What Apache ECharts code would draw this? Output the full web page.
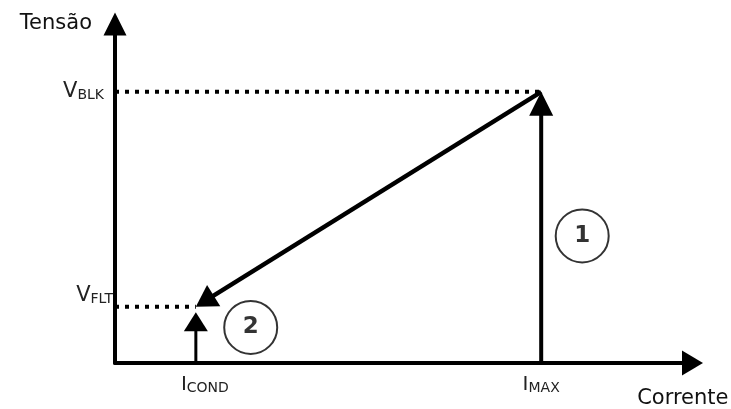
<!DOCTYPE html>
<html>
<head>
<meta charset="utf-8">
<script src="https://cdn.jsdelivr.net/npm/echarts@6/dist/echarts.min.js"></script>
<style>
  html, body { margin: 0; padding: 0; background: #fff; }
  #chart { width: 731px; height: 409px; }
</style>
</head>
<body>
<div id="chart"></div>
<script>
// values (axes run 0..100)
const I_COND = 14.0;
const I_MAX = 73.8;
const V_FLT = 16.6;
const V_BLK = 80.0;

const xTicks = [I_COND, I_MAX];
const xTickNames = ["COND", "MAX"];
const yTicks = [V_FLT, V_BLK];
const yTickNames = ["FLT", "BLK"];

// dotted guide lines
const dottedBlk = [[0, V_BLK], [I_MAX, V_BLK]];
const dottedFlt = [[0, V_FLT], [I_COND, V_FLT]];

// arrows: [x0, y0, x1, y1], head at (x1, y1)
const arrowLines = [
  [I_MAX, 0, I_MAX, V_BLK],
  [I_MAX, V_BLK, I_COND, V_FLT],
  [I_COND, 0, I_COND, 15.0]
];

// numbered circles: [x, y, text]
const badges = [
  [80.9, 37.5, "1"],
  [23.5, 10.5, "2"]
];

// line width / head length / head width for each arrow
const arrowLook = [
  { lw: 4, len: 24, w: 24 },
  { lw: 4.5, len: 21, w: 25 },
  { lw: 3, len: 19, w: 24 }
];

const font = "DejaVu Sans";

let myChart = echarts.init(document.getElementById("chart"));
myChart.setOption({
  backgroundColor: "#fff",
  animation: false,
  grid: { left: 115, right: 38.5, top: 24, bottom: 46, outerBoundsMode: "none" },
  xAxis: {
    type: "value",
    min: 0,
    max: 100,
    name: "\nCorrente",
    nameLocation: "end",
    nameGap: 36,
    nameTextStyle: {
      fontFamily: font,
      fontSize: 21,
      lineHeight: 24,
      color: "#111",
      align: "right",
      verticalAlign: "top"
    },
    axisLine: {
      lineStyle: { color: "#000", width: 4 },
      symbol: ["none", "triangle"],
      symbolSize: [25, 21]
    },
    axisTick: { show: false },
    splitLine: { show: false },
    axisLabel: {
      customValues: xTicks,
      margin: 12,
      formatter: v => {
        let name = xTickNames[xTicks.indexOf(v)];
        // ICOND sits a bit to the right of its tick
        return (v === I_COND ? "{ip|I}" : "{i|I}") + "{s|" + name + "}";
      },
      rich: {
        i: { fontFamily: font, fontSize: 20, color: "#222", verticalAlign: "bottom" },
        ip: { fontFamily: font, fontSize: 20, color: "#222", verticalAlign: "bottom", padding: [0, 0, 0, 18] },
        s: { fontFamily: font, fontSize: 14, color: "#222", verticalAlign: "bottom" }
      }
    }
  },
  yAxis: {
    type: "value",
    min: 0,
    max: 100,
    name: "Tensão",
    nameLocation: "end",
    nameGap: 0,
    nameTextStyle: {
      fontFamily: font,
      fontSize: 21,
      color: "#111",
      align: "right",
      verticalAlign: "middle",
      padding: [0, 23, 0, 0]
    },
    axisLine: {
      lineStyle: { color: "#000", width: 4 },
      symbol: ["none", "triangle"],
      symbolSize: [23, 23]
    },
    axisTick: { show: false },
    splitLine: { show: false },
    axisLabel: {
      customValues: yTicks,
      margin: 2,
      formatter: v => {
        let name = yTickNames[yTicks.indexOf(v)];
        if (v === V_FLT) {
          // sits a little above its dotted line
          return "{v|V}{s|" + name + "}\n{g| }";
        }
        return "{v|V}{sp|" + name + "}";
      },
      rich: {
        v: { fontFamily: font, fontSize: 21, color: "#222", verticalAlign: "bottom" },
        s: { fontFamily: font, fontSize: 14, color: "#222", verticalAlign: "bottom" },
        sp: { fontFamily: font, fontSize: 14, color: "#222", verticalAlign: "bottom", padding: [0, 9, 0, 0] },
        g: { fontSize: 10, lineHeight: 22 }
      }
    }
  },
  series: [
    {
      type: "line",
      data: dottedBlk,
      symbol: "none",
      lineStyle: { color: "#000", width: 4, type: [4, 6], cap: "butt" },
      z: 1
    },
    {
      type: "line",
      data: dottedFlt,
      symbol: "none",
      lineStyle: { color: "#000", width: 4, type: [4, 6], cap: "butt" },
      z: 1
    },
    {
      type: "custom",
      data: arrowLines,
      encode: { x: [0, 2], y: [1, 3] },
      z: 3,
      renderItem: function (params, api) {
        let p0 = api.coord([api.value(0), api.value(1)]);
        let p1 = api.coord([api.value(2), api.value(3)]);
        let look = arrowLook[params.dataIndex];
        let dx = p1[0] - p0[0];
        let dy = p1[1] - p0[1];
        let len = Math.sqrt(dx * dx + dy * dy);
        let ux = dx / len;
        let uy = dy / len;
        let bx = p1[0] - ux * look.len;
        let by = p1[1] - uy * look.len;
        let nx = -uy * look.w / 2;
        let ny = ux * look.w / 2;
        return {
          type: "group",
          children: [
            {
              type: "line",
              shape: { x1: p0[0], y1: p0[1], x2: bx + ux * 2, y2: by + uy * 2 },
              style: { stroke: "#000", lineWidth: look.lw }
            },
            {
              type: "polygon",
              shape: { points: [[p1[0], p1[1]], [bx + nx, by + ny], [bx - nx, by - ny]] },
              style: { fill: "#000" }
            }
          ]
        };
      }
    },
    {
      type: "scatter",
      data: badges,
      symbol: "circle",
      symbolSize: 53,
      itemStyle: { color: "#fff", borderColor: "#000", borderWidth: 2 },
      label: {
        show: true,
        position: "inside",
        formatter: p => p.value[2],
        fontFamily: font,
        fontSize: 23,
        fontWeight: "bold",
        color: "#000"
      },
      z: 4
    }
  ]
});
</script>
</body>
</html>
